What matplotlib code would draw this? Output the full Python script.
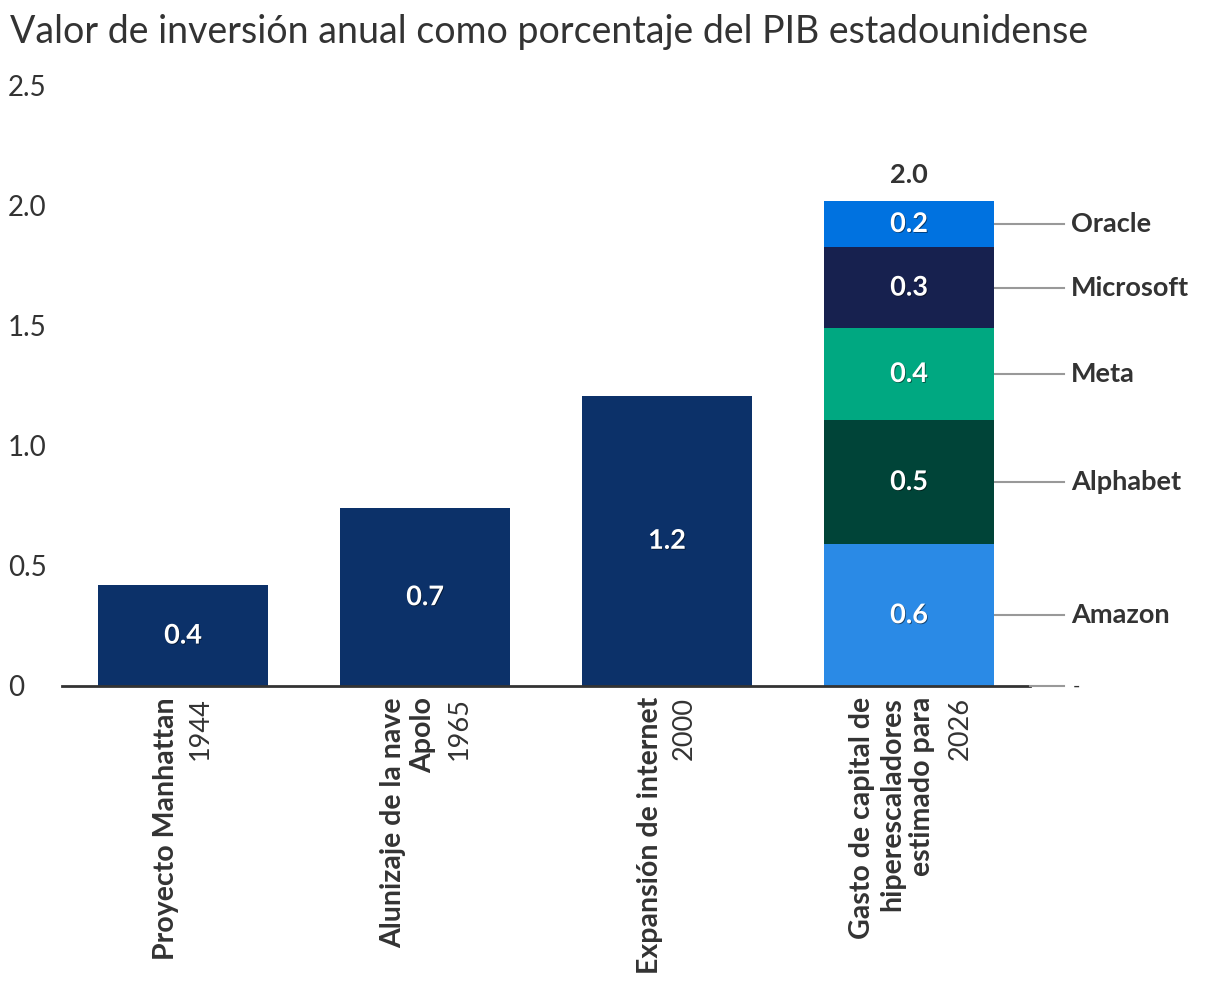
import matplotlib
matplotlib.use("Agg")
import matplotlib.pyplot as plt
import matplotlib.patheffects as pe

plt.rcParams['font.family'] = ['Lato', 'DejaVu Sans']

# Datos
categorias = ["Proyecto Manhattan", "Alunizaje de la nave\nApolo",
              "Expansión de internet",
              "Gasto de capital de\nhiperescaladores\nestimado para"]
anios = ["1944", "1965", "2000", "2026"]
valores = [0.42, 0.74, 1.21]
empresas = ["Amazon", "Alphabet", "Meta", "Microsoft", "Oracle"]
valores_emp = [0.59, 0.52, 0.38, 0.34, 0.19]
etiquetas_emp = ["0.6", "0.5", "0.4", "0.3", "0.2"]
etiquetas = ["0.4", "0.7", "1.2"]
total_label = "2.0"
colores_emp = ["#2a8ae6", "#004438", "#00a881", "#17214f", "#0072e0"]
navy = "#0c3169"
gris = "#333333"

fig = plt.figure(figsize=(12.2, 10.02), dpi=100)
ax = fig.add_axes([62 / 1220, 1 - 686 / 1002, (1030 - 62) / 1220, 600 / 1002])

ancho = 0.70
sombra = [pe.withSimplePatchShadow(offset=(0.6, -0.6), shadow_rgbFace="black", alpha=0.5)]
fs = 19.5

# barras simples
for i, v in enumerate(valores):
    ax.bar(i, v, width=ancho, color=navy, zorder=2)
    ax.text(i, v / 2, etiquetas[i], ha="center", va="center", color="white",
            fontsize=fs, fontweight="bold", path_effects=sombra, zorder=3)

# barra apilada
base = 0
xs = 3
for nombre, v, lab, c in zip(empresas, valores_emp, etiquetas_emp, colores_emp):
    ax.bar(xs, v, width=ancho, bottom=base, color=c, zorder=2)
    mid = base + v / 2
    ax.text(xs, mid, lab, ha="center", va="center", color="white",
            fontsize=fs, fontweight="bold", path_effects=sombra, zorder=3)
    ax.plot([xs + ancho / 2, 3.64], [mid, mid], color="#999999", lw=1.5,
            clip_on=False, zorder=1)
    ax.text(3.67, mid, nombre, ha="left", va="center", color=gris,
            fontsize=fs, fontweight="bold", clip_on=False)
    base += v
ax.text(xs, base + 0.11, total_label, ha="center", va="center", color=gris,
        fontsize=fs, fontweight="bold")

# linea cero
ax.plot([-0.5, 3.5], [0, 0], color=gris, lw=2, zorder=4, clip_on=False)
ax.plot([3.5, 3.64], [0, 0], color="#999999", lw=1.5, zorder=4, clip_on=False)
ax.text(3.675, 0, "-", ha="left", va="center", color=gris, fontsize=14,
        clip_on=False)

ax.set_xlim(-0.5, 3.5)
ax.set_ylim(0, 2.5)
ax.set_yticks([0, 0.5, 1.0, 1.5, 2.0, 2.5])
ax.set_yticklabels(["0", "0.5", "1.0", "1.5", "2.0", "2.5"])
for t in ax.get_yticklabels():
    t.set_horizontalalignment("left")
    t.set_fontweight("normal")
    t.set_fontsize(20)
    t.set_color(gris)
ax.tick_params(axis="y", length=0, pad=39)
ax.set_xticks([])
for s in ax.spines.values():
    s.set_visible(False)

# etiquetas de categoria (rotadas)
paso = 24.5
for i, (cat, an) in enumerate(zip(categorias, anios)):
    n = cat.count("\n") + 1
    ax.annotate(cat, xy=(i, 0), xycoords="data",
                xytext=(-paso / 2, -8), textcoords="offset points",
                rotation=90, ha="center", va="top", multialignment="right",
                fontsize=20.5, fontweight="bold", color=gris, linespacing=1.2,
                annotation_clip=False)
    ax.annotate(an, xy=(i, 0), xycoords="data",
                xytext=(n * paso / 2, -8), textcoords="offset points",
                rotation=90, ha="center", va="top",
                fontsize=fs, fontweight="normal", color=gris,
                annotation_clip=False)

fig.text(10 / 1220, 1 - 32 / 1002, "Valor de inversión anual como porcentaje del PIB estadounidense",
         ha="left", va="center", fontsize=27, fontweight="normal", color=gris)

fig.savefig("out.png", dpi=100)
